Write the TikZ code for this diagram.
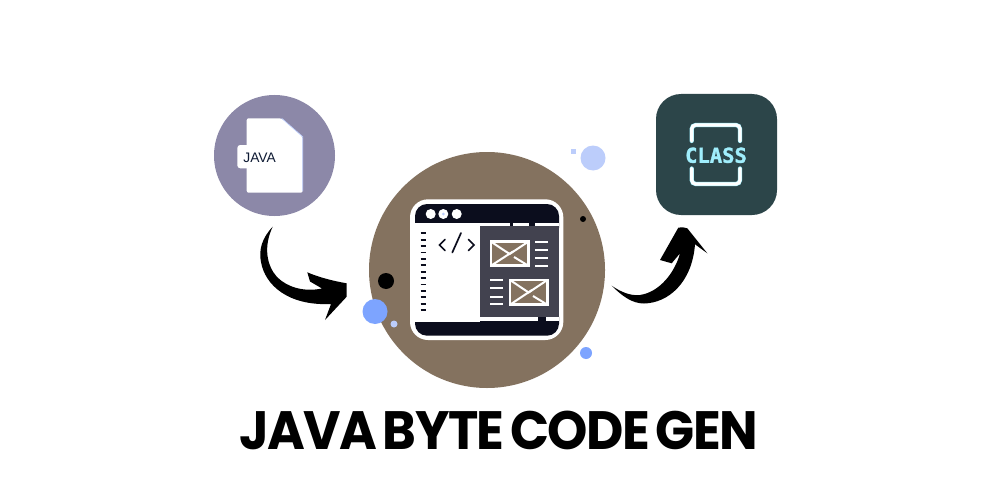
\documentclass[tikz,border=0pt]{standalone}
\usepackage{fontspec}
\usepackage{graphicx}
\newfontfamily\titlefam{Poppins Bold}[LetterSpace=-3,WordSpace=0.6]
\newfontfamily\monofam{DejaVu Sans Mono}[BoldFont={DejaVu Sans Mono Bold}]
\newfontfamily\sansfam{Liberation Sans}
\definecolor{brownc}{HTML}{84725F}
\definecolor{purplec}{HTML}{8C88A8}
\definecolor{tealc}{HTML}{2C4549}
\definecolor{inkc}{HTML}{0B0D1D}
\definecolor{panelc}{HTML}{42424F}
\definecolor{blueA}{HTML}{7DA4FF}
\definecolor{blueB}{HTML}{BCCDFB}
\definecolor{cyanc}{HTML}{A0EEFC}
\definecolor{navyc}{HTML}{0E1A33}
\tikzset{
  tick/.style={draw=inkc,line width=1.7pt},
  wline/.style={draw=white,line width=2pt},
  envbox/.style={draw=white,fill=brownc,line width=2.6pt},
  envline/.style={draw=white,line width=2pt},
  code/.style={draw=inkc,line width=1.7pt,line cap=round},
  brkhalo/.style={draw=cyanc,line width=4.2pt,rounded corners=4pt,line cap=round},
  brk/.style={draw=white,line width=3.2pt,rounded corners=4pt,line cap=round},
  arrowshape/.style={fill=black,draw=none},
}
\begin{document}
\begin{tikzpicture}[x=1pt,y=-1pt]
\useasboundingbox (0,0) rectangle (1000,500);
\fill[white] (0,0) rectangle (1000,500);
% big circle and blobs
\fill[brownc] (487,270) circle (118);
\fill[blueB] (593,158) circle (12.5);
\fill[blueB] (571,149) rectangle (575.5,153.5);
\fill[black] (583,219) circle (3);
\fill[black] (386,281) circle (8);
\fill[blueA] (375,311.5) circle (12.5);
\fill[blueB] (394,324) circle (3.5);
\fill[blueA] (586,353) circle (6);
% java file icon
\fill[purplec] (274.5,155.5) circle (60.5);
\fill[white,rounded corners=2pt] (246.7,118.3) -- (281.7,118.3) -- (302.7,136.7) -- (302.7,192.7) -- (246.7,192.7) -- cycle;
\fill[white,rounded corners=3pt] (237.3,145) rectangle (255,168.3);
\draw[blueB,line width=.7pt] (281.7,118.3) -- (302.7,136.7) -- (302.7,191);
\node[text=navyc,font=\sansfam\fontsize{13.8}{15}\selectfont,inner sep=0pt] (javalabel) at (259.6,157.5) {JAVA};
% class icon
\fill[tealc,rounded corners=25pt] (656,94) rectangle (777,215);
\draw[brkhalo] (691.7,141) -- (691.7,125) -- (740,125) -- (740,141);
\draw[brkhalo] (691.7,168.5) -- (691.7,184) -- (740,184) -- (740,168.5);
\draw[brk] (691.7,141) -- (691.7,125) -- (740,125) -- (740,141);
\draw[brk] (691.7,168.5) -- (691.7,184) -- (740,184) -- (740,168.5);
\node[text=cyanc,font=\monofam\bfseries\fontsize{20.5}{22}\selectfont,inner sep=0pt] (classlabel) at (716,155.3) {\addfontfeature{FakeBold=1.5}CLASS};
% browser window
\fill[white,rounded corners=18pt] (410,199.3) rectangle (563.3,340);
\fill[inkc,rounded corners=12pt] (415,204) rectangle (559,240);
\fill[inkc,rounded corners=12pt] (415,305) rectangle (559,335.7);
\fill[white] (415,223.3) rectangle (480,321.7);
\fill[panelc] (480,226) rectangle (559,317.3);
\fill[white] (480,222.5) rectangle (509.5,225.5);
\fill[white] (512.5,222.5) rectangle (529,225.5);
\fill[white] (535,222.5) rectangle (559,225.5);
\fill[white] (480,317.3) rectangle (537.5,321);
\fill[white] (545.5,317.3) rectangle (559,321);
\foreach \cx in {430.7,443.3,456.7}
  \fill[white] (\cx,214) circle (5);
\fill[blueB] (443.3,214) circle (1.5);
% ticks
\foreach \k in {0,...,12}
  \draw[tick] (420.5,233.3+6.4*\k) -- (426,233.3+6.4*\k);
% code glyph
\draw[code] (445,239.5) -- (439.5,245) -- (445,250.5);
\draw[code] (452.3,252.5) -- (461,233);
\draw[code] (468.5,239.5) -- (474,245) -- (468.5,250.5);
% envelopes
\draw[envbox] (491,241.7) rectangle (528.3,265.7);
\draw[envline] (491,241.7) -- (509.6,254) -- (528.3,241.7);
\draw[envline] (491,265.7) -- (513,251.5);
\draw[envline] (514,257) -- (528.3,265.7);
\draw[envbox] (510,280) rectangle (547.3,304.7);
\draw[envline] (510,280) -- (528.6,292.5) -- (547.3,280);
\draw[envline] (510,304.7) -- (532,290);
\draw[envline] (533,296) -- (547.3,304.7);
\foreach \yy in {241.7,250,257.7,265.7}
  \draw[wline] (535,\yy) -- (548.3,\yy);
\foreach \yy in {280,288.3,296.7,304.3}
  \draw[wline] (490,\yy) -- (503.3,\yy);
% left arrow
\fill[arrowshape] (272.7,226.7)
  .. controls (262,238) and (258.5,250) .. (261,262)
  .. controls (265,285) and (288,306) .. (331,304)
  -- (325,320)
  -- (346.7,296.7) -- (346.7,283.3)
  .. controls (333,281) and (318,277) .. (307.3,272.3)
  -- (310,281.5) -- (322,288.5)
  .. controls (305,292) and (288,288) .. (277,277)
  .. controls (267,266) and (263,247) .. (272.7,226.7) -- cycle;
% right arrow
\fill[arrowshape] (611.7,285.7)
  .. controls (622,296) and (632,303.5) .. (644,303.5)
  .. controls (668,303) and (692,283) .. (695,244.3)
  -- (707.3,253.3) -- (687.3,228.3)
  .. controls (684,227) and (681,227) .. (678.3,227.7)
  -- (660,260) -- (671.7,263.3) -- (680,253.3)
  .. controls (675,272) and (660,292) .. (640,295)
  .. controls (630,296) and (621,292) .. (611.7,285.7) -- cycle;
% title
\node[font=\titlefam\fontsize{54}{60}\selectfont,text=black,inner sep=0pt,anchor=base] (title) at (498.5,449) {\scalebox{.95}[1]{JAVA BYTE CODE GEN}};
\end{tikzpicture}
\end{document}
